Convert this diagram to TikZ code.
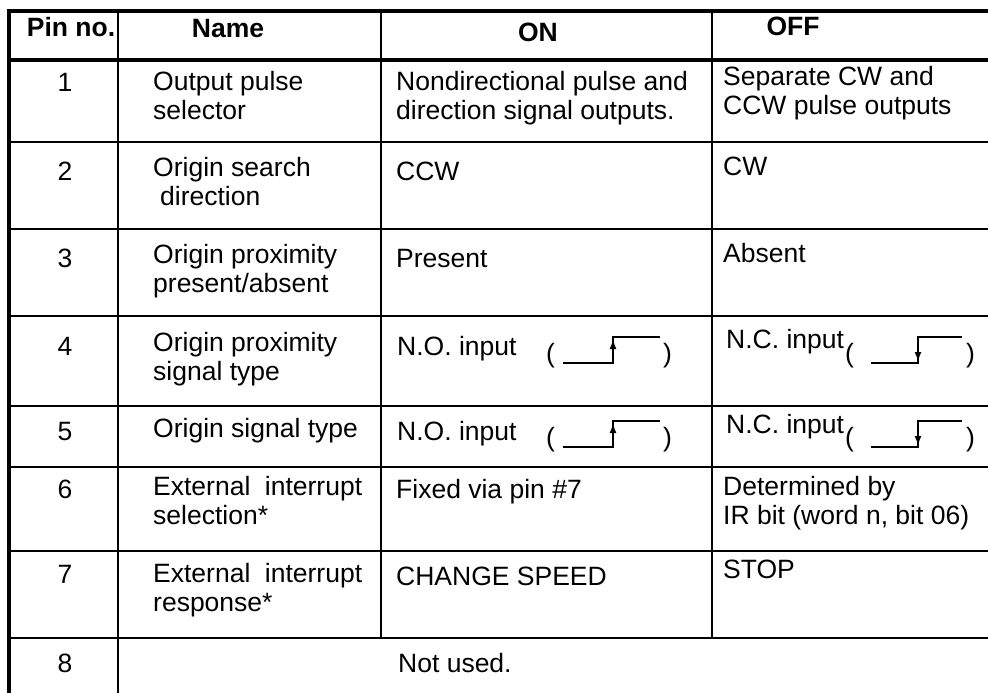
\documentclass[tikz,border=0pt]{standalone}
\usepackage{fontspec}
\setmainfont{Liberation Sans}
\usetikzlibrary{arrows.meta}

% two lines, baseline on the first one
\newcommand{\twoline}[2]{\vtop{\hbox{#1}\hbox{#2}}}

\tikzset{
  cell/.style={anchor=base west, inner sep=0pt},
  pinno/.style={anchor=base, inner sep=0pt},
  hdr/.style={anchor=base, inner sep=0pt, font=\fontsize{26.5}{29}\selectfont\bfseries},
  rule/.style={line width=2.5pt},
  border/.style={line width=4.5pt},
  wave/.style={line width=2pt},
  paren/.style={anchor=base west, inner sep=0pt}
}

\begin{document}
\begin{tikzpicture}[x=1pt, y=-1pt, font=\fontsize{26.5}{29}\selectfont]
  \useasboundingbox (0,0) rectangle (988,693);

  % Table rules
  \foreach \y in {142,229,316,406,467,551,638}
    \draw[rule] (9,\y) -- (988,\y);
  \draw[rule] (118,11) -- (118,693);
  \foreach \x in {381,712}
    \draw[rule] (\x,11) -- (\x,638);

  % Outer frame and header rule
  \draw[border] (9,693) -- (9,11) -- (988,11);
  \draw[border] (9,60) -- (988,60);

  % Header
  \node[hdr] (hpin) at (71,37) {Pin no.};
  \node[hdr] (hname) at (228,38) {Name};
  \node[hdr] (hon) at (538,42) {ON};
  \node[hdr] (hoff) at (793,36) {OFF};

  % Pin numbers
  \foreach \n/\y in {1/92,2/180,3/267,4/355,5/440,6/498,7/583,8/672}
    \node[pinno] (p\n) at (65,\y) {\n};

  % Names
  \node[cell] (n1) at (153,90) {\twoline{Output pulse}{selector}};
  \node[cell] (n2) at (153,176) {\twoline{Origin search}{\hspace*{7pt}direction}};
  \node[cell] (n3) at (153,263) {\twoline{Origin proximity}{present/absent}};
  \node[cell] (n4) at (153,351) {\twoline{Origin proximity}{signal type}};
  \node[cell] (n5) at (153,437) {Origin signal type};
  \node[cell] (n6) at (153,495) {\twoline{\makebox[209pt][s]{External interrupt}}{selection*}};
  \node[cell] (n7) at (153,582) {\twoline{\makebox[209pt][s]{External interrupt}}{response*}};

  % ON column
  \node[cell] (on1) at (396,90) {\twoline{Nondirectional pulse and}{direction signal outputs.}};
  \node[cell] (on2) at (396,180) {CCW};
  \node[cell] (on3) at (396,267) {Present};
  \node[cell] (on4) at (397,355) {N.O. input};
  \node[cell] (on5) at (397,440) {N.O. input};
  \node[cell] (on6) at (396,498) {Fixed via pin \#7};
  \node[cell] (on7) at (396,585) {CHANGE SPEED};

  % OFF column
  \node[cell] (off1) at (723,85) {\twoline{Separate CW and}{CCW pulse outputs}};
  \node[cell] (off2) at (723,175) {CW};
  \node[cell] (off3) at (723,262) {Absent};
  \node[cell] (off4) at (726,348) {N.C. input};
  \node[cell] (off5) at (726,433) {N.C. input};
  \node[cell] (off6) at (723,495) {\twoline{Determined by}{IR bit (word n, bit 06)}};
  \node[cell] (off7) at (723,578) {STOP};

  % Pin 8
  \node[cell] (on8) at (398,672) {Not used.};

  % Signal edges (rows 4 and 5)
  \foreach \dy in {0,84} {
    % rising edge
    \node[paren] (lon\dy) at (546,362+\dy) {(};
    \node[paren] (ron\dy) at (663,362+\dy) {)};
    \draw[wave] (563,363+\dy) -- (613,363+\dy) -- (613,337+\dy) -- (660,337+\dy);
    \draw[wave, -{Latex[length=10pt,width=7pt]}] (613,356+\dy) -- (613,339+\dy);
    % falling edge
    \node[paren] (loff\dy) at (845,362+\dy) {(};
    \node[paren] (roff\dy) at (966,362+\dy) {)};
    \draw[wave] (871,363+\dy) -- (918,363+\dy) -- (918,337+\dy) -- (962,337+\dy);
    \draw[wave, -{Latex[length=10pt,width=7pt]}] (918,345+\dy) -- (918,362+\dy);
  }
\end{tikzpicture}
\end{document}
